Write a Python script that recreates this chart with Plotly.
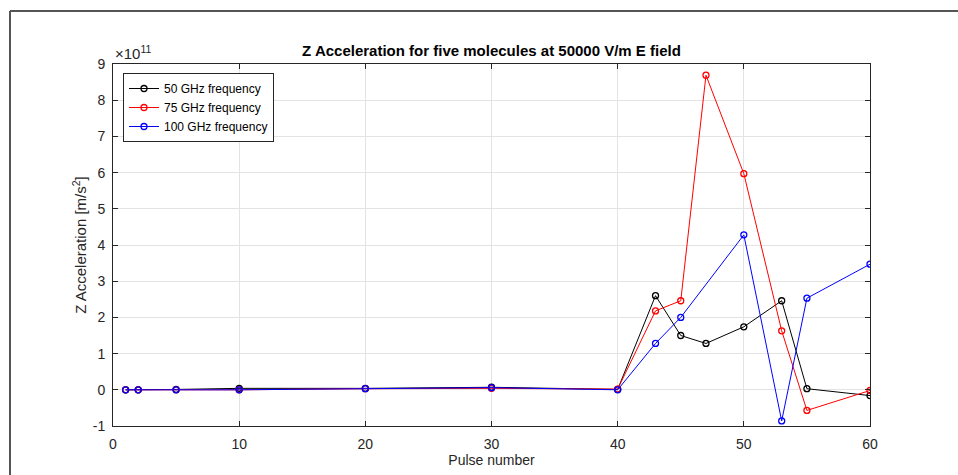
import plotly.graph_objects as go

# Data (values in units of 1e11 m/s^2)
pulses_50 = [1, 2, 5, 10, 20, 30, 40, 43, 45, 47, 50, 53, 55, 60]
accel_50 = [0.0, 0.0, 0.01, 0.04, 0.04, 0.07, 0.01, 2.6, 1.5, 1.28, 1.74, 2.46, 0.03, -0.16]

pulses_75 = [1, 2, 5, 10, 20, 30, 40, 43, 45, 47, 50, 53, 55, 60]
accel_75 = [0.0, 0.0, 0.0, 0.0, 0.03, 0.04, 0.02, 2.18, 2.46, 8.69, 5.97, 1.63, -0.57, -0.02]

pulses_100 = [1, 2, 5, 10, 20, 30, 40, 43, 45, 50, 53, 55, 60]
accel_100 = [0.0, 0.0, 0.0, 0.0, 0.03, 0.06, 0.0, 1.28, 2.0, 4.28, -0.86, 2.53, 3.47]

series = [
    ("50 GHz frequency", pulses_50, accel_50, "#000000"),
    ("75 GHz frequency", pulses_75, accel_75, "#ff0000"),
    ("100 GHz frequency", pulses_100, accel_100, "#0000ff"),
]

x_ticks = [0, 10, 20, 30, 40, 50, 60]
y_ticks = [-1, 0, 1, 2, 3, 4, 5, 6, 7, 8, 9]
y_tick_text = ["-1", "0", "1", "2", "3", "4", "5", "6", "7", "8", "9"]

fig = go.Figure()
for name, xs, ys, col in series:
    fig.add_trace(go.Scatter(
        x=xs, y=ys, name=name, mode="lines+markers",
        line=dict(color=col, width=1),
        marker=dict(symbol="circle-open", size=6, color=col, line=dict(width=1.3, color=col)),
    ))

W, H = 958, 475
L, R, T, B = 113, 88, 64, 49
pw, ph = W - L - R, H - T - B

axis_common = dict(
    showgrid=True, gridcolor="#e3e3e3", gridwidth=1,
    zeroline=False, showline=True, linecolor="#262626", linewidth=1,
    mirror="ticks", ticks="inside", ticklen=5, tickcolor="#262626",
    tickfont=dict(family="Liberation Sans, Arial", size=14, color="#262626"),
)

fig.update_layout(
    width=W, height=H,
    margin=dict(l=L, r=R, t=T, b=B),
    paper_bgcolor="white", plot_bgcolor="white",
    font=dict(family="Liberation Sans, Arial", color="#262626"),
    title=dict(text="<b>Z Acceleration for five molecules at 50000 V/m E field</b>",
               x=(L + pw / 2) / W, xanchor="center", y=1 - 51 / H, yanchor="middle",
               font=dict(size=15, color="#000000")),
    xaxis=dict(range=[0, 60], tickvals=x_ticks, ticklabelstandoff=5, **axis_common,
               title=dict(text="Pulse number", font=dict(size=14, color="#262626"), standoff=2)),
    yaxis=dict(range=[-1, 9], tickvals=y_ticks, ticktext=y_tick_text, ticklabelstandoff=4, **axis_common,
               title=dict(text="Z Acceleration [m/s<sup>2</sup>]", font=dict(size=15, color="#262626"), standoff=2)),
    legend=dict(x=(123 - L) / pw, y=1 - (73 - T) / ph, xanchor="left", yanchor="top",
                bgcolor="white", bordercolor="#262626", borderwidth=1,
                font=dict(size=12, color="#000000"), tracegroupgap=0, itemwidth=30),
    showlegend=True,
)

fig.add_annotation(text="×10<sup>11</sup>", xref="paper", yref="paper",
                   x=0, y=1, xanchor="left", yanchor="bottom", showarrow=False,
                   font=dict(size=15, color="#262626"), yshift=0)

# Outer figure frame (top and left edges)
fig.add_shape(type="line", xref="paper", yref="paper",
              x0=(10 - L) / pw, x1=(W + 5 - L) / pw, y0=1 + (T - 11) / ph, y1=1 + (T - 11) / ph,
              line=dict(color="#555555", width=2))
fig.add_shape(type="line", xref="paper", yref="paper",
              x0=(10 - L) / pw, x1=(10 - L) / pw, y0=-(B + 5) / ph, y1=1 + (T - 11) / ph,
              line=dict(color="#555555", width=2))

fig.write_html("out.html")
